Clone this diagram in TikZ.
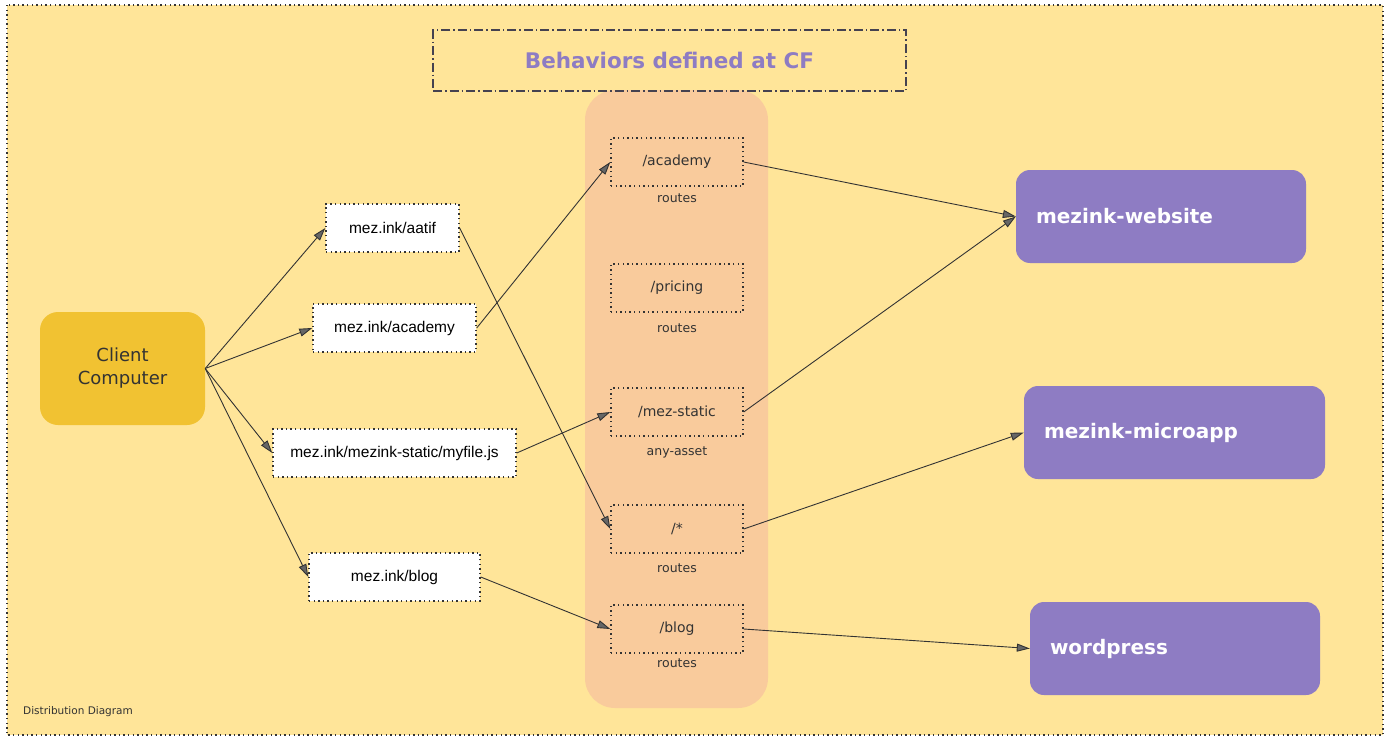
\documentclass[tikz,border=0pt]{standalone}
\usepackage{fontspec}
\setmainfont{DejaVu Sans}
\newfontfamily\arialfont{Liberation Sans}
\usetikzlibrary{arrows.meta}

\definecolor{bgyellow}{HTML}{FFE599}
\definecolor{colorange}{HTML}{F9CB9C}
\definecolor{clientgold}{HTML}{F1C232}
\definecolor{lilac}{HTML}{8E7CC3}
\definecolor{inkgray}{HTML}{333333}

\tikzset{
  dots/.style={dash pattern=on 1.4pt off 3.2pt},
  urlbox/.style={draw=inkgray, dots, line width=1.4pt, fill=white, minimum height=48pt,
    inner sep=0pt, font=\arialfont\fontsize{15.5}{18}\selectfont},
  routebox/.style={draw=inkgray, dots, line width=1.4pt, minimum width=132pt, minimum height=48pt,
    inner sep=0pt, font=\fontsize{14}{16}\selectfont, text=inkgray},
  routelabel/.style={font=\fontsize{12.5}{14}\selectfont, text=inkgray, inner sep=0pt},
  target/.style={fill=lilac, rounded corners=14pt, minimum height=93pt, inner xsep=20pt,
    align=left, text=white, font=\bfseries\fontsize{20}{24}\selectfont},
  link/.style={draw=inkgray, line width=0.9pt, -{Triangle[length=13pt,width=8pt,fill=gray!80!black]}}
}

\begin{document}
\begin{tikzpicture}[x=1pt,y=-1pt]
\useasboundingbox (0,0) rectangle (1400,744);

% background frame
\fill[white] (0,0) rectangle (1400,744);
\draw[fill=bgyellow, draw=inkgray, dots, line width=1.4pt] (7,5) rectangle (1383,735);
\node[anchor=west, font=\fontsize{10.5}{12}\selectfont, text=inkgray, inner sep=0pt] (caption) at (23,712) {Distribution Diagram};

% behaviours column
\fill[colorange, rounded corners=30pt] (585,90) rectangle (768,708);
\node[draw=inkgray!80!lilac, line width=1.2pt, dash pattern=on 9pt off 3pt on 1.5pt off 3pt,
  minimum width=473pt, minimum height=61pt, text=lilac,
  font=\bfseries\fontsize{21.5}{24}\selectfont] (title) at (669.5,60.5) {Behaviors defined at CF};

\node[routebox] (racademy) at (677,162) {/academy};
\node[routebox] (rpricing) at (677,288) {/pricing};
\node[routebox] (rstatic) at (677,412) {/mez-static};
\node[routebox] (rall) at (677,529) {/*};
\node[routebox] (rblog) at (677,629) {/blog};

\node[routelabel] (lacademy) at (677,198) {routes};
\node[routelabel] (lpricing) at (677,328) {routes};
\node[routelabel] (lstatic) at (677,452) {any-asset};
\node[routelabel] (lall) at (677,568) {routes};
\node[routelabel] (lblog) at (677,663) {routes};

% client and requests
\node[fill=clientgold, rounded corners=18pt, minimum width=165pt, minimum height=113pt, align=center,
  text=inkgray, font=\fontsize{18}{23}\selectfont] (client) at (122.5,368.5) {Client\\Computer};

\node[urlbox, minimum width=133pt] (aatif) at (392.5,228) {mez.ink/aatif};
\node[urlbox, minimum width=163pt] (academy) at (394.5,328) {mez.ink/academy};
\node[urlbox, minimum width=243pt] (static) at (394.5,453) {mez.ink/mezink-static/myfile.js};
\node[urlbox, minimum width=171pt] (blog) at (394.5,577) {mez.ink/blog};

% origins
\node[target, text width=250pt] (website) at (1161,216.5) {mezink-website};
\node[target, text width=261pt] (microapp) at (1174.5,432.5) {mezink-microapp};
\node[target, text width=250pt] (wordpress) at (1175,648.5) {wordpress};

% connectors
\draw[link] (client.east) -- (aatif.west);
\draw[link] (client.east) -- (academy.west);
\draw[link] (client.east) -- (static.west);
\draw[link] (client.east) -- (blog.west);

\draw[link] (aatif.east) -- (rall.west);
\draw[link] (academy.east) -- (racademy.west);
\draw[link] (static.east) -- (rstatic.west);
\draw[link] (blog.east) -- (rblog.west);

\draw[link] (racademy.east) -- (website.west);
\draw[link] (rstatic.east) -- (website.west);
\draw[link] (rall.east) -- (microapp.west);
\draw[link] (rblog.east) -- (wordpress.west);
\end{tikzpicture}
\end{document}
